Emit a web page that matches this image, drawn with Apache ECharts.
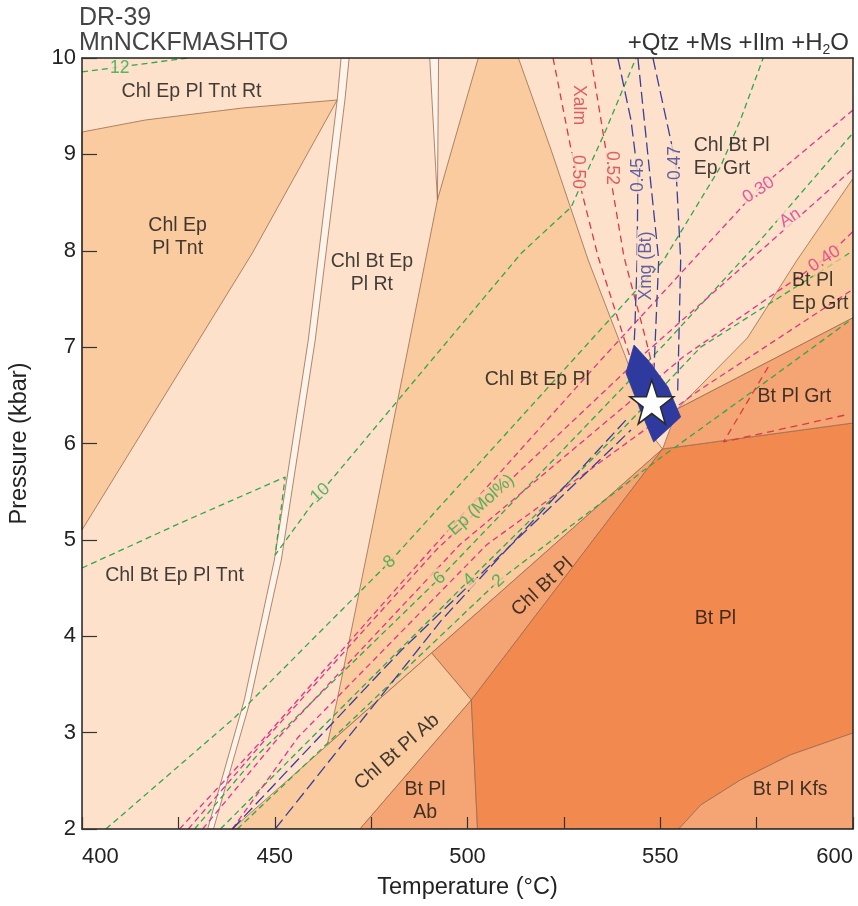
<!DOCTYPE html>
<html>
<head>
<meta charset="utf-8">
<title>DR-39 pseudosection</title>
<script src="https://cdn.jsdelivr.net/npm/echarts@6/dist/echarts.min.js"></script>
<style>
html,body{margin:0;padding:0;background:#fff;}
#chart{width:858px;height:906px;}
</style>
</head>
<body>
<div id="chart"></div>
<script>
// Axis ranges
const tempRange = [400, 600];
const pressRange = [2, 10];

// Field polygons, vertices as [T (°C), P (kbar)]
const fieldChlEpPlTnt = [[400,9.232],[416.5,9.357],[441.6,9.481],[466.2,9.564],[444.2,7.977],[400,5.103]];
const fieldNarrowA = [[467.2,10],[466.2,9.564],[458.7,7.074],[449.9,4.791],[442.1,3.339],[432.6,2.0],
                      [434.1,2.0],[443.7,3.339],[451.7,4.791],[460.5,7.074],[468.2,9.564],[469.3,10]];
const fieldNarrowB = [[490.2,10],[492.5,10],[492.2,8.527]];
const fieldChlBtEpPl = [[502.8,10],[513.2,10],[521.7,9.045],[531.3,7.904],[541.6,6.835],[548.8,6.036],[550.6,5.943],
                        [463.6,2.871],[466.2,3.339],[475.7,5.206],[485.0,7.074],[492.2,8.527],[495.9,9.045]];
const fieldChlBtPl = [[550.6,5.943],[490.7,3.826],[501.0,3.339]];
const fieldChlBtPlAb = [[490.7,3.826],[439.0,2.0],[472.1,2.0],[481.7,2.446],[501.0,3.339]];
const fieldBtPlAb = [[472.1,2.0],[481.7,2.446],[501.0,3.339],[502.6,2.0]];
const fieldBtPl = [[550.6,5.943],[600,6.213],[600,2.996],[583.7,2.768],[570.8,2.509],[560.5,2.249],[554.8,2.0],[502.6,2.0],[501.0,3.339]];
const fieldBtPlKfs = [[554.8,2.0],[560.5,2.249],[570.8,2.509],[583.7,2.768],[600,2.996],[600,2.0]];
const fieldBtPlEpGrt = [[554.5,6.36],[572.6,7.095],[585.5,7.904],[600,8.75],[600,7.304]];
const fieldBtPlGrt = [[550.6,5.943],[554.5,6.36],[600,7.304],[600,6.213]];

// Modelled assemblage for the sample (Xmg/Xalm/An overlap)
const fieldPeak = [[543.2,7.022],[541.1,6.732],[544.8,6.35],[548.3,6.016],[555.3,6.275],[552.0,6.586],[546.8,6.866]];
const peakStar = [547.8, 6.431];

// Isopleths: epidote (mol%)
const ep12 = [[400,9.855],[427.4,10]];
const ep10 = [[400,4.708],[426.1,5.185],[452.7,5.652],[450.1,4.843],[461.8,5.486],[514.0,7.977],[526.9,8.454],[535.9,9.253],[543.7,10]];
const ep8 = [[406.2,2.0],[439.5,3.152],[479.8,4.771],[550.9,7.904],[565.6,8.869],[570.8,9.357],[576.7,10]];
const ep6 = [[429.2,2.0],[445.5,2.768],[492.8,4.604],[550.9,7.022],[576.0,8.112],[600,9.222]];
const ep4 = [[435.9,2.0],[500.5,4.584],[540.0,6.14],[560.5,7.0],[600,8.0]];
const ep2 = [[440.3,2.0],[508.0,4.573],[550.0,5.85],[576.0,6.6],[600,7.3]];

// Isopleths: almandine in garnet
const xalm50 = [[522.2,10],[526.9,9.045],[533.9,7.935],[542.4,6.866],[548.8,6.036]];
const xalm52 = [[532.0,10],[535.9,9.045],[540.6,7.935],[546.3,7.074],[551.4,6.244]];
const xalmGrt = [[578.0,6.794],[566.4,6.016],[598.5,6.3]];

// Isopleths: Mg/(Mg+Fe) in biotite
const xmg45 = [[539.0,10],[542.4,9.357],[544.2,8.786],[544.0,7.904],[543.4,7.178],[543.2,7.022]];
const xmg46 = [[544.2,10],[549.6,7.904],[548.3,6.7]];
const xmg47 = [[548.1,10],[554.0,8.911],[555.3,7.904],[554.5,6.5]];
const xmgLowA = [[450.1,2.0],[493.3,4.169],[541.1,6.244]];
const xmgLowB = [[439.0,2.0],[482.9,3.857],[542.4,6.14]];

// Isopleths: anorthite in plagioclase
const an30 = [[425.3,2.0],[446.8,2.924],[488.1,4.791],[534.6,6.866],[575.2,8.630],[600,9.46]];
const an35 = [[427.6,2.0],[448.0,2.95],[492.0,4.9],[545.0,6.9],[600,8.85]];
const an40 = [[431.3,2.0],[451.0,2.95],[498.0,4.95],[556.0,6.9],[592.6,7.915],[600,8.2]];
const an45 = [[439.0,2.0],[456.0,2.95],[505.0,4.95],[560.0,6.55],[600,7.6]];

// Colours
const cLight = '#FDE1CA', cMidLight = '#F9CB9E', cMid = '#F5A573', cDark = '#F28A4F', cNarrow = '#FFF3EA';
const cBound = '#9C6B50';
const cEp = '#2FA84A', cAlm = '#D93A45', cXmg = '#3A3F99', cAn = '#E0358C';
const fontFam = 'Liberation Sans, Arial, sans-serif';

const fieldList = [
  { pts: fieldChlEpPlTnt, color: cMidLight },
  { pts: fieldChlBtEpPl, color: cMidLight },
  { pts: fieldChlBtPl, color: cMid },
  { pts: fieldChlBtPlAb, color: cMidLight },
  { pts: fieldBtPlAb, color: cMid },
  { pts: fieldBtPl, color: cDark },
  { pts: fieldBtPlKfs, color: cMid },
  { pts: fieldBtPlEpGrt, color: cMidLight },
  { pts: fieldBtPlGrt, color: cMid },
  { pts: fieldNarrowA, color: cNarrow },
  { pts: fieldNarrowB, color: cNarrow }
];

// Field names [T, P, text, rotation, align]
const fieldNames = [
  [428.4, 9.648, 'Chl Ep Pl Tnt Rt', 0, 'center'],
  [424.8, 8.143, 'Chl Ep\nPl Tnt', 0, 'center'],
  [475.2, 7.769, 'Chl Bt Ep\nPl Rt', 0, 'center'],
  [558.7, 8.973, 'Chl Bt Pl\nEp Grt', 0, 'left'],
  [518.1, 6.659, 'Chl Bt Ep Pl', 0, 'center'],
  [584.2, 7.567, 'Bt Pl\nEp Grt', 0, 'left'],
  [584.8, 6.483, 'Bt Pl Grt', 0, 'center'],
  [424.0, 4.625, 'Chl Bt Ep Pl Tnt', 0, 'center'],
  [564.3, 4.179, 'Bt Pl', 0, 'center'],
  [519.4, 4.511, 'Chl Bt Pl', 43, 'center'],
  [481.7, 2.799, 'Chl Bt Pl Ab', 41, 'center'],
  [489.0, 2.29, 'Bt Pl\nAb', 0, 'center'],
  [583.7, 2.405, 'Bt Pl Kfs', 0, 'center']
];

// Isopleth labels [T, P, text, rotation, colour, background]
const isoNames = [
  [409.8, 9.896, '12', 0, cEp, cLight],
  [461.8, 5.486, '10', 42, cEp, cLight],
  [479.8, 4.771, '8', 42, cEp, cMidLight],
  [492.8, 4.604, '6', 42, cEp, cMidLight],
  [500.5, 4.584, '4', 42, cEp, cMidLight],
  [508.0, 4.573, '2', 42, cEp, cMidLight],
  [503.6, 5.362, 'Ep (Mol%)', 42, cEp, cMidLight],
  [528.9, 9.512, 'Xalm', -90, cAlm, cLight],
  [528.7, 8.817, '0.50', -90, cAlm, cLight],
  [537.5, 8.859, '0.52', -90, cAlm, cLight],
  [544.2, 8.786, '0.45', 90, cXmg, cLight],
  [554.0, 8.911, '0.47', 90, cXmg, cLight],
  [546.3, 7.842, 'Xmg (Bt)', 90, cXmg, cLight],
  [575.5, 8.630, '0.30', 33, cAn, cLight],
  [583.7, 8.340, 'An', 33, cAn, cLight],
  [592.6, 7.915, '0.40', 33, cAn, cMidLight]
];

function iso(data, color, dash) {
  return {
    type: 'line', data: data, showSymbol: false, silent: true, z: 3,
    lineStyle: { color: color, width: 1.3, type: dash }
  };
}

const starPath = 'path://M50,2 L61.8,36.5 L98,36.5 L68.8,58 L79.6,93 L50,71.5 L20.4,93 L31.2,58 L2,36.5 L38.2,36.5 Z';

const chart = echarts.init(document.getElementById('chart'), null, { renderer: 'canvas' });

const series = [
  {
    type: 'custom', silent: true, clip: true, z: 1,
    data: fieldList.map((f, i) => [f.pts[0][0], f.pts[0][1], i]),
    renderItem: function (params, api) {
      const f = fieldList[params.dataIndex];
      return {
        type: 'polygon',
        shape: { points: f.pts.map(p => api.coord(p)) },
        style: { fill: f.color, stroke: cBound, lineWidth: 0.8 }
      };
    }
  },
  iso(ep12, cEp, [6, 4]), iso(ep10, cEp, [6, 4]), iso(ep8, cEp, [6, 4]),
  iso(ep6, cEp, [6, 4]), iso(ep4, cEp, [6, 4]), iso(ep2, cEp, [6, 4]),
  iso(an30, cAn, [6, 4]), iso(an35, cAn, [6, 4]), iso(an40, cAn, [6, 4]), iso(an45, cAn, [6, 4]),
  iso(xalm50, cAlm, [7, 5]), iso(xalm52, cAlm, [7, 5]), iso(xalmGrt, cAlm, [7, 5]),
  iso(xmg45, cXmg, [12, 5]), iso(xmg46, cXmg, [12, 5]), iso(xmg47, cXmg, [12, 5]),
  iso(xmgLowA, cXmg, [12, 5]), iso(xmgLowB, cXmg, [12, 5]),
  {
    type: 'custom', silent: true, clip: true, z: 4,
    data: [[peakStar[0], peakStar[1]]],
    renderItem: function (params, api) {
      return {
        type: 'polygon',
        shape: { points: fieldPeak.map(p => api.coord(p)) },
        style: { fill: '#2F3A9E', stroke: '#2F3A9E', lineWidth: 0.8 }
      };
    }
  },
  {
    type: 'scatter', silent: true, z: 5,
    symbol: starPath, symbolSize: 44,
    itemStyle: { color: '#FFFFFF', opacity: 1, borderColor: '#2A2A2A', borderWidth: 1.5 },
    data: [peakStar]
  },
  {
    type: 'scatter', silent: true, z: 6, symbolSize: 0,
    labelLayout: { hideOverlap: false },
    data: fieldNames.map(d => ({
      value: [d[0], d[1]],
      label: { show: true, position: 'inside', formatter: d[2], rotate: d[3], align: d[4],
               color: '#111', fontSize: 19.5, lineHeight: 23, fontFamily: fontFam }
    }))
  },
  {
    type: 'scatter', silent: true, z: 6, symbolSize: 0,
    labelLayout: { hideOverlap: false },
    data: isoNames.map(d => ({
      value: [d[0], d[1]],
      label: { show: true, position: 'inside', formatter: d[2], rotate: d[3],
               color: d[4], backgroundColor: d[5], padding: [0, 2],
               fontSize: 17.5, fontFamily: fontFam }
    }))
  }
];

const option = {
  animation: false,
  backgroundColor: '#FFFFFF',
  grid: { left: 79, right: 5, top: 58, bottom: 77, show: true, backgroundColor: cLight, borderWidth: 0 },
  xAxis: [
    {
      type: 'value', min: tempRange[0], max: tempRange[1], interval: 25, position: 'bottom', z: 8,
      name: 'Temperature (°C)', nameLocation: 'middle', nameGap: 47,
      nameTextStyle: { fontSize: 23.5, color: '#222', fontFamily: fontFam },
      axisLine: { lineStyle: { color: '#222', width: 1.5 } },
      axisTick: { inside: true, length: 12, lineStyle: { color: '#333', width: 1.2 } },
      axisLabel: {
        fontSize: 22, color: '#222', margin: 17, fontFamily: fontFam,
        formatter: v => (v % 50 === 0 ? String(v) : ''),
        alignMinLabel: 'left', alignMaxLabel: 'right'
      },
      splitLine: { show: false }
    },
    {
      type: 'value', min: tempRange[0], max: tempRange[1], position: 'top', z: 8,
      axisLine: { lineStyle: { color: '#222', width: 1.5 } },
      axisTick: { show: false }, axisLabel: { show: false }, splitLine: { show: false }
    }
  ],
  yAxis: [
    {
      type: 'value', min: pressRange[0], max: pressRange[1], interval: 1, position: 'left', z: 8,
      name: 'Pressure (kbar)', nameLocation: 'middle', nameGap: 50, nameRotate: 90,
      nameTextStyle: { fontSize: 23.5, color: '#222', fontFamily: fontFam },
      axisLine: { lineStyle: { color: '#222', width: 1.5 } },
      axisTick: { inside: true, length: 15, lineStyle: { color: '#333', width: 1.2 } },
      axisLabel: { fontSize: 22, color: '#222', margin: 6, fontFamily: fontFam },
      splitLine: { show: false }
    },
    {
      type: 'value', min: pressRange[0], max: pressRange[1], position: 'right', z: 8,
      axisLine: { lineStyle: { color: '#222', width: 1.5 } },
      axisTick: { show: false }, axisLabel: { show: false }, splitLine: { show: false }
    }
  ],
  graphic: [
    { type: 'text', z: 10,
      style: { text: 'DR-39', x: 79, y: 18, verticalAlign: 'middle', align: 'left',
               fontSize: 25, fill: '#444', fontFamily: fontFam } },
    { type: 'text', z: 10,
      style: { text: 'MnNCKFMASHTO', x: 79, y: 43, verticalAlign: 'middle', align: 'left',
               fontSize: 25, fill: '#444', fontFamily: fontFam } },
    { type: 'text', z: 10,
      style: {
        text: '+Qtz +Ms +Ilm +H{sub|2}O', x: 849, y: 43, verticalAlign: 'middle', align: 'right',
        fontSize: 24, fill: '#333', fontFamily: fontFam,
        rich: { sub: { fontSize: 14, fill: '#333', padding: [14, 0, 0, 0] } }
      } }
  ],
  series: series
};

chart.setOption(option);
</script>
</body>
</html>
